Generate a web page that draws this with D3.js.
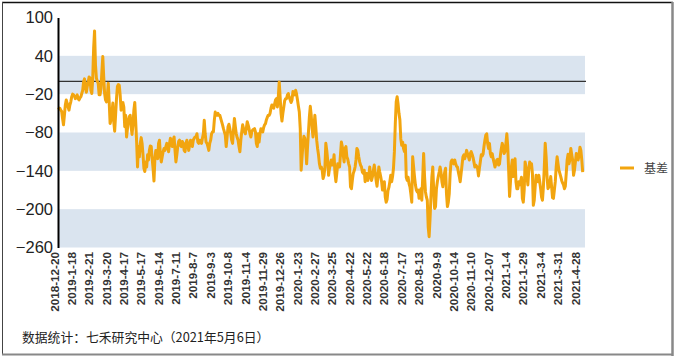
<!DOCTYPE html>
<html><head><meta charset="utf-8">
<script src="https://cdn.jsdelivr.net/npm/d3@7"></script>
<style>body{margin:0;background:#fff}svg{display:block}</style>
</head><body><svg id="c" width="676" height="357"></svg>
<script>
const tickLabels = ["2018-12-20","2019-1-18","2019-2-21","2019-3-20","2019-4-17","2019-5-17","2019-6-14","2019-7-11","2019-8-7","2019-9-3","2019-10-8","2019-11-4","2019-11-29","2019-12-26","2020-1-23","2020-2-27","2020-3-25","2020-4-22","2020-5-22","2020-6-18","2020-7-17","2020-8-13","2020-9-9","2020-10-14","2020-11-10","2020-12-07","2021-1-4","2021-1-29","2021-3-4","2021-3-31","2021-4-28"];
const tickStep = 19; // trading days between labelled categories
const basis = [
-41,-42,-42,-45,-47,-58,-68,-53,-37,-29,
-34,-40,-45,-37,-32,-24,-20,-21,-23,-27,
-24,-21,-27,-29,-26,-24,-19,-14,-1,4,
-8,-17,-8,-1,7,5,-14,-19,5,52,
79,26,5,0,-3,-21,-21,-11,15,39,
7,-19,-29,-32,-21,-3,-32,-66,-60,-50,
-34,-63,-78,-53,-27,-8,-5,-6,-21,-45,
-34,-33,-40,-71,-53,-87,-74,-61,-55,-53,
-71,-83,-68,-45,-33,-63,-94,-134,-102,-118,
-97,-88,-97,-115,-136,-141,-126,-134,-115,-123,
-108,-101,-102,-121,-136,-156,-121,-108,-109,-121,
-97,-92,-115,-126,-118,-110,-105,-108,-102,-97,
-102,-110,-97,-89,-97,-102,-92,-87,-108,-126,
-115,-102,-94,-92,-100,-102,-94,-97,-108,-110,
-97,-92,-100,-108,-100,-92,-97,-102,-92,-89,
-87,-87,-82,-95,-97,-92,-95,-97,-89,-82,
-61,-82,-95,-97,-102,-108,-97,-92,-82,-79,
-79,-61,-48,-53,-53,-50,-53,-53,-58,-63,
-68,-74,-79,-84,-102,-87,-71,-67,-74,-82,
-92,-97,-76,-58,-71,-82,-88,-92,-102,-110,
-92,-79,-68,-74,-79,-82,-74,-63,-68,-74,
-82,-87,-79,-76,-75,-74,-79,-97,-102,-82,
-95,-82,-74,-76,-79,-72,-68,-66,-60,-56,
-53,-53,-50,-42,-37,-40,-42,-35,-29,-27,
-40,-24,-1,-24,-50,-62,-50,-40,-30,-27,
-27,-21,-19,-25,-29,-33,-29,-16,-19,-21,
-14,-20,-29,-39,-48,-74,-139,-118,-97,-86,
-89,-102,-129,-102,-79,-55,-39,-53,-74,-87,
-71,-53,-71,-92,-105,-115,-129,-136,-134,-139,
-152,-147,-134,-97,-108,-123,-147,-136,-129,-123,
-131,-129,-115,-144,-157,-144,-129,-131,-134,-115,
-95,-102,-115,-126,-105,-102,-118,-122,-129,-134,
-165,-168,-155,-144,-140,-134,-123,-105,-108,-118,
-126,-131,-134,-142,-144,-139,-157,-152,-144,-155,
-147,-134,-147,-155,-149,-139,-131,-142,-155,-164,
-149,-134,-142,-149,-157,-170,-165,-157,-181,-189,
-185,-171,-166,-157,-147,-157,-149,-136,-110,-66,
-32,-24,-35,-50,-60,-90,-100,-95,-105,-110,
-100,-150,-155,-150,-160,-165,-176,-189,-118,-134,
-149,-162,-170,-173,-170,-183,-178,-168,-186,-149,
-113,-149,-173,-181,-186,-228,-243,-215,-181,-149,
-134,-170,-199,-196,-168,-157,-149,-142,-134,-142,
-157,-165,-152,-142,-136,-176,-196,-189,-176,-144,
-126,-123,-127,-129,-123,-129,-133,-134,-142,-149,
-157,-144,-131,-118,-115,-121,-115,-108,-113,-118,
-123,-113,-110,-114,-119,-126,-134,-131,-133,-136,
-148,-136,-126,-115,-117,-114,-102,-92,-84,-82,
-97,-105,-97,-113,-118,-113,-121,-127,-134,-129,
-123,-122,-131,-129,-115,-105,-97,-102,-113,-110,
-97,-82,-102,-139,-180,-157,-134,-123,-149,-134,
-121,-157,-168,-168,-157,-162,-157,-150,-183,-189,
-170,-126,-134,-147,-162,-139,-126,-131,-129,-144,
-194,-186,-165,-147,-152,-157,-147,-157,-168,-181,
-186,-165,-134,-97,-118,-149,-168,-165,-160,-149,
-165,-182,-183,-170,-157,-134,-118,-129,-139,-144,
-149,-155,-159,-162,-168,-164,-144,-123,-114,-129,
-123,-105,-115,-123,-147,-139,-126,-113,-121,-123,
-115,-103,-108,-123,-142
];
const yTicks = [100,40,-20,-80,-140,-200,-260];
const bands = [[40,-20],[-80,-140],[-200,-260]];
const seriesName = "基差";
const sourceText = "数据统计：七禾研究中心（2021年5月6日）";

const orange = "#F2A50F";
const svg = d3.select("#c");
svg.append("rect").attr("width",676).attr("height",357).attr("fill","#fff");

// frame
svg.append("line").attr("x1",2).attr("x2",673).attr("y1",2.5).attr("y2",2.5).attr("stroke","#111").attr("stroke-width",1.5);
svg.append("line").attr("x1",2.5).attr("x2",2.5).attr("y1",2).attr("y2",355).attr("stroke","#444").attr("stroke-width",1);
svg.append("line").attr("x1",672.5).attr("x2",672.5).attr("y1",2).attr("y2",356).attr("stroke","#888").attr("stroke-width",2.5);
svg.append("line").attr("x1",2).attr("x2",673).attr("y1",354.5).attr("y2",354.5).attr("stroke","#888").attr("stroke-width",2);

const x = d3.scaleLinear().domain([0, basis.length-1]).range([58, 582.7]);
const y = d3.scaleLinear().domain([-260, 100]).range([247.5, 17.5]);
const plotRight = 585;

svg.append("g").selectAll("rect").data(bands).join("rect")
  .attr("x", 58).attr("width", plotRight-58)
  .attr("y", d => y(d[0])).attr("height", d => y(d[1]) - y(d[0]))
  .attr("fill", "#DAE4EF");

svg.append("line").attr("x1",58).attr("x2",plotRight+1).attr("y1",y(0)).attr("y2",y(0))
  .attr("stroke","#333").attr("stroke-width",1.3);

const line = d3.line().x((d,i)=>x(i)).y(d=>y(d));
svg.append("path").datum(basis).attr("d", line).attr("fill","none")
  .attr("stroke", orange).attr("stroke-width",3).attr("stroke-linejoin","round");

// y axis
const ya = svg.append("g").attr("transform","translate(58,0)")
  .call(d3.axisLeft(y).tickValues(yTicks).tickFormat(d3.format("d")).tickSize(0).tickSizeOuter(0).tickPadding(5));
ya.select(".domain").attr("stroke","#000").attr("stroke-width",2);
ya.selectAll("text").attr("font-family","Liberation Sans, Arial, sans-serif").attr("font-size",16.5).attr("fill","#222");

// x axis labels
const tickIdx = tickLabels.map((_, i) => i * tickStep);
const xa = svg.append("g").attr("transform","translate(0,252)")
  .call(d3.axisBottom(x).tickValues(tickIdx).tickFormat((d,i)=>tickLabels[i]).tickSize(0).tickPadding(0));
xa.select(".domain").remove();
xa.selectAll("text")
  .attr("x",0).attr("y",0).attr("dy",null)
  .attr("transform","rotate(-90)")
  .style("text-anchor","end")
  .attr("font-family","Liberation Sans, Arial, sans-serif").attr("font-size",11.7).attr("font-weight","bold").attr("fill","#333");

// legend
svg.append("line").attr("x1",620).attr("x2",634).attr("y1",168).attr("y2",168).attr("stroke",orange).attr("stroke-width",3);
svg.append("text").attr("x",644).attr("y",172.5).text(seriesName)
  .attr("font-family","Noto Sans CJK SC, sans-serif").attr("font-size",12).attr("fill","#444");

// source
svg.append("text").attr("x",22).attr("y",341.5).text(sourceText)
  .attr("font-family","Noto Sans CJK SC, sans-serif").attr("font-size",12.8).attr("fill","#222");
</script></body></html>
